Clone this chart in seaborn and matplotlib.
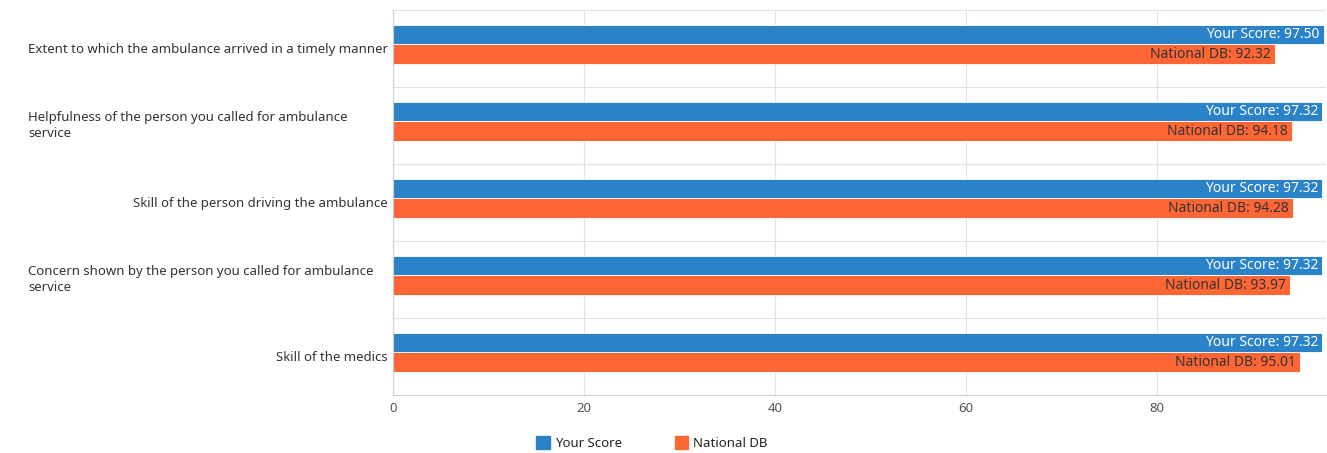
import textwrap
import numpy as np
import pandas as pd
import seaborn as sns
import matplotlib.pyplot as plt
from matplotlib.patches import Patch
import matplotlib.transforms as mtransforms

# Data
questions = [
    'Extent to which the ambulance arrived in a timely manner',
    'Helpfulness of the person you called for ambulance service',
    'Skill of the person driving the ambulance',
    'Concern shown by the person you called for ambulance service',
    'Skill of the medics',
]
your_score = [97.50, 97.32, 97.32, 97.32, 97.32]
national_db = [92.32, 94.18, 94.28, 93.97, 95.01]
series_names = ['Your Score', 'National DB']
x_ticks = [0, 20, 40, 60, 80]

blue = '#2a83c8'
orange = '#ff6635'

sns.set_theme(style='white')
plt.rcParams['font.family'] = ['Noto Sans', 'DejaVu Sans']

df = pd.DataFrame({
    'question': questions * 2,
    'score': your_score + national_db,
    'series': [series_names[0]] * len(questions) + [series_names[1]] * len(questions),
})

fig = plt.figure(figsize=(13.27, 4.53), dpi=100)
ax = fig.add_axes([393 / 1327, 1 - 395 / 453, 933 / 1327, 385 / 453])

sns.barplot(data=df, y='question', x='score', hue='series', orient='h',
            palette=[blue, orange], width=0.5, ax=ax, legend=False,
            edgecolor='white', linewidth=0.6, saturation=1)

ax.set_xlim(0, 97.7)
ax.set_ylim(len(questions) - 0.448, -0.448)
ax.set_xticks(x_ticks)
ax.set_xticklabels([str(t) for t in x_ticks], fontsize=9.5, color='#555555')
ax.set_yticks(np.arange(len(questions)) - 0.448, minor=True)
ax.set_yticks([])
ax.grid(True, axis='x', color='#e2e2e2', linewidth=0.8)
ax.grid(True, axis='y', which='minor', color='#e2e2e2', linewidth=0.8)
ax.tick_params(axis='x', length=0, pad=5)
ax.tick_params(axis='y', which='both', length=0)
ax.set_xlabel('')
ax.set_ylabel('')
for side in ['top', 'right']:
    ax.spines[side].set_visible(False)
for side in ['left', 'bottom']:
    ax.spines[side].set_color('#cfcfcf')
    ax.spines[side].set_linewidth(0.8)

# value labels inside bar ends
label_colors = ['white', '#333333']
for container, name, col in zip(ax.containers, series_names, label_colors):
    texts = ax.bar_label(container, labels=[f'{name}: {w:.2f}' for w in container.datavalues],
                         padding=-3, fontsize=10, color=col)
    for t in texts:
        t.set_ha('right')

# category labels: single-line right aligned, wrapped ones left aligned
trans = mtransforms.blended_transform_factory(fig.transFigure, ax.transData)
for i, q in enumerate(questions):
    lbl = textwrap.fill(q, width=56)
    if '\n' in lbl:
        ax.text(28 / 1327, i + 0.052, lbl, transform=trans, ha='left', va='center',
                fontsize=9.5, color='#333333', linespacing=1.35)
    else:
        ax.text(388 / 1327, i + 0.06, lbl, transform=trans, ha='right', va='center',
                fontsize=9.5, color='#333333')

handles = [Patch(facecolor=blue, edgecolor=blue), Patch(facecolor=orange, edgecolor=orange)]
fig.legend(handles, series_names, loc='center', bbox_to_anchor=(652 / 1327, 1 - 443 / 453),
           ncol=2, frameon=False, fontsize=9.5, handlelength=1.0, handleheight=1.1,
           handletextpad=0.4, columnspacing=4.0, labelcolor='#222222')

fig.savefig('out.png', dpi=100)
